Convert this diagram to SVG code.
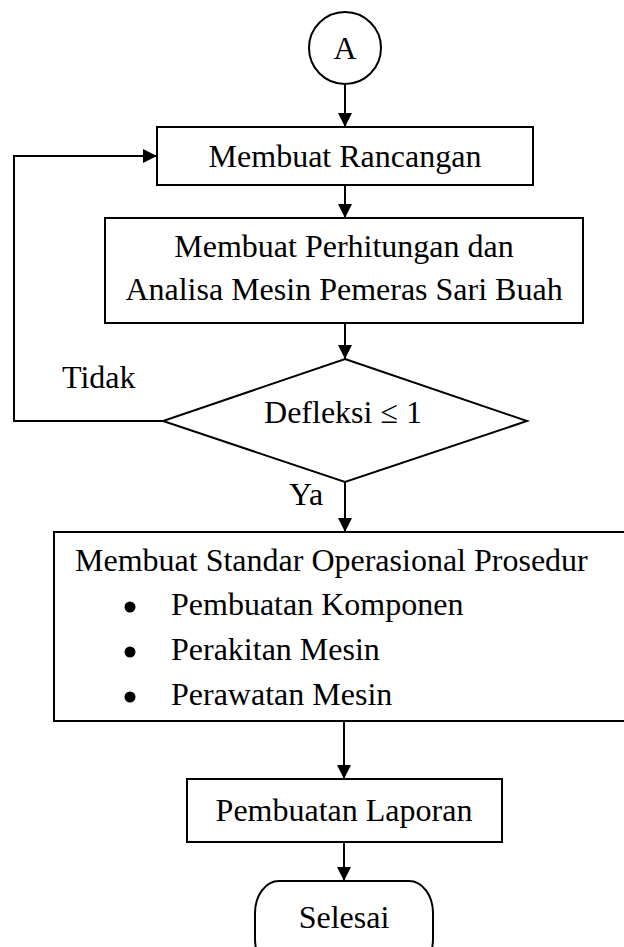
<svg xmlns="http://www.w3.org/2000/svg" width="624" height="947" viewBox="0 0 624 947">
<style>
.s{fill:#fff;stroke:#000;stroke-width:2}
.t{font-family:"Liberation Serif","Times New Roman",serif;font-size:32px;fill:#000}
.c{text-anchor:middle}
.l{fill:none;stroke:#000;stroke-width:2}
</style>
<defs>
<marker id="ah" markerWidth="14" markerHeight="14" viewBox="0 0 14 14" refX="14" refY="7" orient="auto" markerUnits="userSpaceOnUse">
<path d="M0,0 L14,7 L0,14 Z" fill="#000"/>
</marker>
</defs>
<rect width="624" height="947" fill="#fff"/>
<g id="connectors">
<line class="l" x1="345" y1="84" x2="345" y2="127" marker-end="url(#ah)"/>
<line class="l" x1="345" y1="185" x2="345" y2="218" marker-end="url(#ah)"/>
<line class="l" x1="345" y1="323" x2="345" y2="359" marker-end="url(#ah)"/>
<polyline class="l" points="163,421 14,421 14,156 157,156" marker-end="url(#ah)"/>
<line class="l" x1="345" y1="482" x2="345" y2="532" marker-end="url(#ah)"/>
<line class="l" x1="344" y1="721" x2="344" y2="779" marker-end="url(#ah)"/>
<line class="l" x1="344" y1="842" x2="344" y2="881" marker-end="url(#ah)"/>
<text class="t" x="62" y="388">Tidak</text>
<text class="t" x="289" y="505">Ya</text>
</g>
<g id="start">
<circle class="s" cx="345" cy="48" r="36"/>
<text class="t c" x="345" y="59">A</text>
</g>
<g id="rancangan">
<rect class="s" x="157" y="127" width="376" height="58"/>
<text class="t c" x="345" y="167">Membuat Rancangan</text>
</g>
<g id="perhitungan">
<rect class="s" x="105" y="218" width="478" height="105"/>
<text class="t c" x="344" y="257">Membuat Perhitungan dan</text>
<text class="t c" x="344" y="300">Analisa Mesin Pemeras Sari Buah</text>
</g>
<g id="defleksi">
<polygon class="s" points="345,359 527,421 345,482 163,421"/>
<text class="t c" x="343" y="423">Defleksi ≤ 1</text>
</g>
<g id="sop">
<rect class="s" x="54" y="532" width="582" height="189"/>
<text class="t" x="75" y="571">Membuat Standar Operasional Prosedur</text>
<circle cx="130" cy="607" r="5.5" fill="#000"/>
<circle cx="130" cy="652" r="5.5" fill="#000"/>
<circle cx="130" cy="697" r="5.5" fill="#000"/>
<text class="t" x="171" y="615">Pembuatan Komponen</text>
<text class="t" x="171" y="660">Perakitan Mesin</text>
<text class="t" x="171" y="705">Perawatan Mesin</text>
</g>
<g id="laporan">
<rect class="s" x="187" y="779" width="315" height="63"/>
<text class="t c" x="344" y="821">Pembuatan Laporan</text>
</g>
<g id="selesai">
<rect class="s" x="255" y="881" width="178" height="90" rx="24" ry="32"/>
<text class="t c" x="344" y="928">Selesai</text>
</g>
</svg>
